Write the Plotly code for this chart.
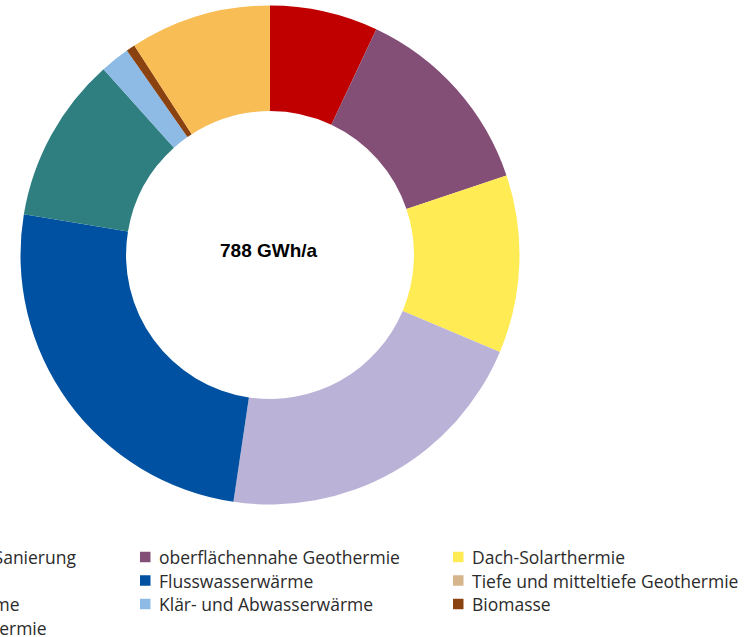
import plotly.graph_objects as go

W, H = 753, 637

labels = [
    "Einsparung durch Sanierung",
    "oberflächennahe Geothermie",
    "Dach-Solarthermie",
    "Umweltwärme",
    "Flusswasserwärme",
    "Tiefe und mitteltiefe Geothermie",
    "Industrielle Abwärme",
    "Klär- und Abwasserwärme",
    "Biomasse",
    "Freiflächen-Solarthermie",
]
values = [55.2, 101.1, 90.7, 165.4, 199.1, 0.0, 84.8, 15.0, 4.5, 72.1]
colors = [
    "#C00000", "#844F77", "#FFEB54", "#BBB2D7", "#0051A1",
    "#D6B58C", "#2F7F81", "#8EBAE6", "#8A4210", "#F8BD55",
]
center_text = "788 GWh/a"

# pie geometry (pixels)
cx, cy, r = 270, 255, 249.5
hole = 0.577

fig = go.Figure(go.Pie(
    labels=labels,
    values=values,
    marker=dict(colors=colors, line=dict(width=0)),
    hole=hole,
    sort=False,
    direction="clockwise",
    rotation=0,
    textinfo="none",
    hoverinfo="label+value",
    showlegend=False,
    domain=dict(x=[(cx - r) / W, (cx + r) / W],
                y=[1 - (cy + r) / H, 1 - (cy - r) / H]),
))

def px(x):
    return x / W

def py(y):
    return 1 - y / H

annotations = [dict(
    text="<b>" + center_text + "</b>",
    x=px(269), y=py(250), xref="paper", yref="paper",
    showarrow=False, xanchor="center", yanchor="middle",
    font=dict(family="Liberation Sans, Arial, sans-serif", size=19, color="#000000"),
)]
shapes = []

# legend laid out in 3 columns, row-major
col_sq = [-175, 140, 453]
col_tx = [-157, 157, 470]
row_y = [557, 580.5, 604, 627.5]
sq = 10.5
for i, (lab, col) in enumerate(zip(labels, colors)):
    rr, cc = divmod(i, 3)
    yc = row_y[rr]
    shapes.append(dict(
        type="rect", xref="paper", yref="paper",
        x0=px(col_sq[cc]), x1=px(col_sq[cc] + sq),
        y0=py(yc + sq / 2), y1=py(yc - sq / 2),
        fillcolor=col, line=dict(width=0),
    ))
    annotations.append(dict(
        text=lab, x=px(col_tx[cc]), y=py(yc), xref="paper", yref="paper",
        showarrow=False, xanchor="left", yanchor="middle",
        font=dict(family="Open Sans, sans-serif", size=17.5, color="#2b2b2b"),
    ))

fig.update_layout(
    width=W, height=H,
    margin=dict(l=0, r=0, t=0, b=0, pad=0, autoexpand=False),
    paper_bgcolor="white", plot_bgcolor="white",
    annotations=annotations, shapes=shapes,
)

fig.write_html("out.html")
